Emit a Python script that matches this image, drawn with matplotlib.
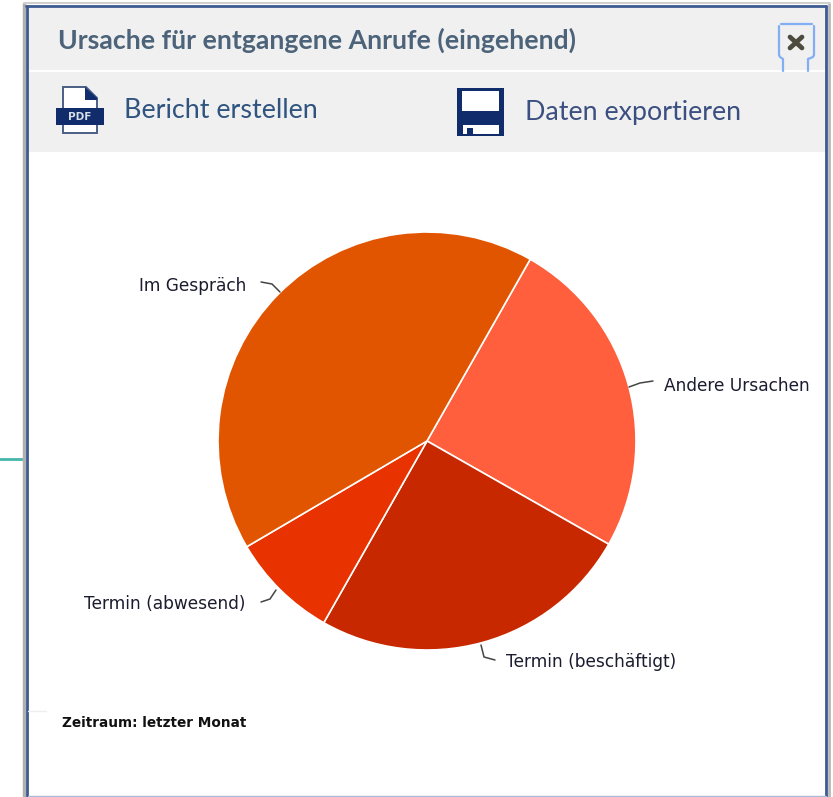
import matplotlib
matplotlib.use("Agg")
import matplotlib.pyplot as plt
from matplotlib.patches import Rectangle, Polygon

W, H = 833, 797

categories = ["Andere Ursachen", "Termin (beschäftigt)", "Termin (abwesend)", "Im Gespräch"]
values = [3, 3, 1, 5]
colors = ["#ff5f3c", "#c82800", "#e83200", "#e25500"]

title = "Ursache für entgangene Anrufe (eingehend)"
report_label = "Bericht erstellen"
export_label = "Daten exportieren"
footer = "Zeitraum: letzter Monat"

NAVY = "#102c6a"


def yy(y):
    # Pixelkoordinate von oben -> Achse
    return H - y


def box(ax, x, y, w, h, color, z=1, **kw):
    ax.add_patch(Rectangle((x, yy(y + h)), w, h, facecolor=color, edgecolor="none", zorder=z, **kw))


def poly(ax, pts, color, z=3, **kw):
    ax.add_patch(Polygon([(x, yy(y)) for x, y in pts], closed=True, facecolor=color, zorder=z, **kw))


def line(ax, xs, ys, color, lw=1.0, z=3):
    ax.plot(xs, [yy(y) for y in ys], color=color, lw=lw, zorder=z, solid_capstyle="round")


fig = plt.figure(figsize=(W / 100, H / 100), dpi=100)
ax = fig.add_axes([0, 0, 1, 1])

# Kreisdiagramm
ax.pie(values, colors=colors, startangle=60.4, counterclock=False, center=(427, yy(441)), radius=209,
       wedgeprops=dict(edgecolor="white", linewidth=1.2), frame=False)
ax.set_xlim(0, W)
ax.set_ylim(0, H)
ax.set_aspect("auto")
ax.axis("off")

# Hintergrund und Fensterrahmen
box(ax, 28, 8, 798, 144, "#f0f0f0", z=0)
line(ax, [28, 825], [71, 71], "white", lw=1.4)
line(ax, [0, 24], [459, 459], "#45b5ad", lw=2)
line(ax, [24, 24], [4, 797], "#b0b0b0", lw=2.5)
line(ax, [27, 27], [6, 797], "#3c5a90", lw=2)
line(ax, [26, 826], [6, 6], "#3c5a90", lw=2)
line(ax, [826, 826], [6, 797], "#3c5a90", lw=2)
line(ax, [829, 829], [4, 797], "#b8b8b8", lw=2)
line(ax, [24, 830], [3, 3], "#d0d0d0", lw=1.5)
line(ax, [28, 46], [711, 711], "#eeeeee", lw=1)
line(ax, [28, 826], [796, 796], "#a8bcd8", lw=1)

# Kopfzeile
ax.text(58, yy(40), title, fontsize=19.2, family="Lato", weight="bold", color="#4c6379", va="center")
ax.text(124, yy(110), report_label, fontsize=19.4, family="Lato", color="#2f5480", va="center")
ax.text(525, yy(112), export_label, fontsize=19.3, family="Lato", color="#3b4f80", va="center")

# PDF-Symbol
poly(ax, [(63, 87), (86, 87), (97, 98), (97, 133), (63, 133)], "white", edgecolor="#4a5f85", linewidth=1.4)
poly(ax, [(85, 87), (97, 98), (97, 100), (85, 100)], NAVY, edgecolor="none")
box(ax, 56, 108, 48, 17, NAVY, z=4)
ax.text(80, yy(117), "PDF", fontsize=7.5, color="#d8dde8", weight="bold", ha="center", va="center", zorder=5)

# Disketten-Symbol
box(ax, 457, 88, 47, 48, NAVY, z=3)
box(ax, 462, 91, 37, 20, "white", z=4)
box(ax, 463, 125, 36, 9, "white", z=4)
box(ax, 467, 128, 6, 6, NAVY, z=5)

# Schliessen-Knopf
line(ax, [779, 779, 780, 783, 783], [26, 55, 57, 59, 71], "#82aef5", lw=1.6)
line(ax, [781, 812], [23.5, 23.5], "#82aef5", lw=1.6)
line(ax, [814, 814, 813, 808, 808], [26, 55, 57, 59, 71], "#82aef5", lw=1.6)
line(ax, [790, 802], [37, 48], "#4d4a3e", lw=3.4)
line(ax, [802, 790], [37, 48], "#4d4a3e", lw=3.4)

# Beschriftungen mit Fuehrungslinien
label_pos = [(664, 386, "left"), (506, 662, "left"), (246, 604, "right"), (246, 286, "right")]
leaders = [
    ([629, 640, 653], [387, 383, 381]),
    ([481, 484, 495], [645, 657, 660]),
    ([276, 270, 261], [590, 599, 602]),
    ([280, 272, 261], [292, 284, 282]),
]
for name, (x, y, ha), (lx, ly) in zip(categories, label_pos, leaders):
    ax.text(x, yy(y), name, fontsize=12.25, color="#1c1c30", ha=ha, va="center")
    line(ax, lx, ly, "#444444", lw=1.1)

ax.text(62, yy(723), footer, fontsize=9.8, color="#111111", weight="bold", va="center")

fig.savefig("out.png", dpi=100)
